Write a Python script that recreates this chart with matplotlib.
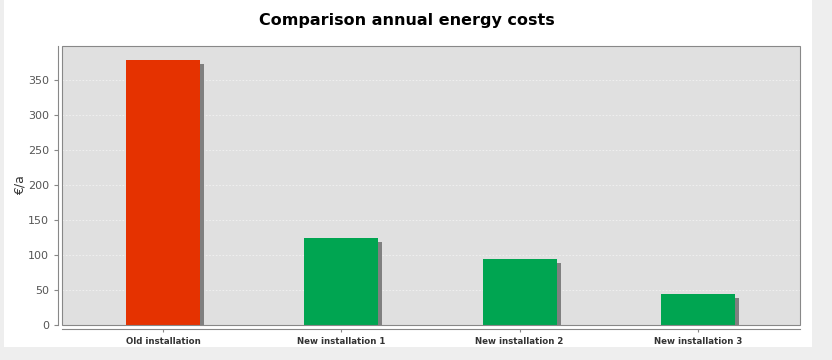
import matplotlib.pyplot as plt
from matplotlib.patches import Rectangle

categories = ['Old installation', 'New installation 1', 'New installation 2', 'New installation 3']
costs = [379, 124, 94, 44]
colors = ['#e53200', '#00a551', '#00a551', '#00a551']

fig = plt.figure(figsize=(8.32, 3.6), dpi=100, facecolor='#eeeeee')
# white chart panel behind everything
fig.patches.append(Rectangle((4 / 832, 13 / 360), 808 / 832, 347 / 360,
                             transform=fig.transFigure, facecolor='white',
                             edgecolor='none', zorder=-10))

ax = fig.add_axes([62 / 832, 35 / 360, 738 / 832, 279 / 360])
ax.set_zorder(5)
ax.set_facecolor('#e0e0e0')

# spines first (set_position resets the ticks)
for s in ['top', 'right']:
    ax.spines[s].set_visible(False)
for s in ['left', 'bottom']:
    ax.spines[s].set_position(('outward', 3))
    ax.spines[s].set_color('#888888')
    ax.spines[s].set_linewidth(0.8)
ax.add_patch(Rectangle((0, 0), 1, 1, transform=ax.transAxes, fill=False,
                       edgecolor='#888888', linewidth=0.8, zorder=5, clip_on=False))

x = list(range(len(categories)))
w = 0.415
# shadows, offset a few pixels right/down
dx = 4 / 178
dy = 4 / 0.7
for xi, v in zip(x, costs):
    ax.bar(xi + dx, v - dy, width=w, bottom=0, color='#808080', zorder=2)
ax.bar(x, costs, width=w, color=colors, zorder=3)

ax.set_xlim(-0.567, 3.573)
ax.set_ylim(0, 399)
ax.set_yticks(range(0, 351, 50))
ax.set_xticks(x)
ax.tick_params(axis='y', labelsize=8, labelcolor='#555555', length=3, color='#888888')
ax.tick_params(axis='x', length=2, color='#888888', pad=4)
ax.set_xticklabels(categories)
for lbl in ax.get_xticklabels():
    lbl.set_fontsize(6.2)
    lbl.set_fontweight('bold')
    lbl.set_color('#333333')
ax.yaxis.grid(True, color='#f2f2f2', linestyle=(0, (2, 2)), linewidth=0.6, zorder=1)
ax.set_axisbelow(True)

ax.set_ylabel('€/a', fontsize=9, color='#333333', labelpad=1)
fig.text(407 / 832, 1 - 20 / 360, 'Comparison annual energy costs', ha='center', va='center',
         fontsize=11.5, fontweight='bold')

fig.savefig('out.png', dpi=100, facecolor=fig.get_facecolor())
